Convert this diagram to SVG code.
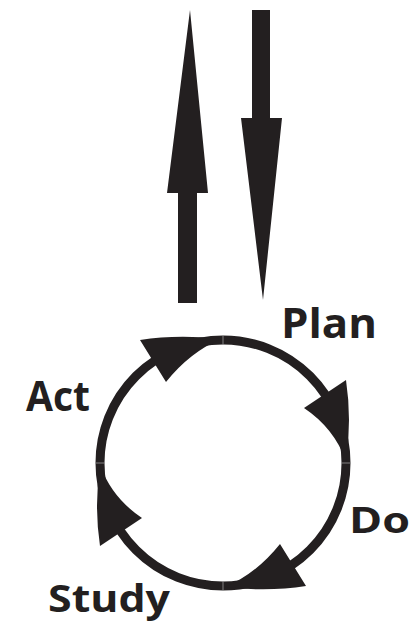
<svg xmlns="http://www.w3.org/2000/svg" width="413" height="623" viewBox="0 0 413 623">
<style>
.ink{fill:#231f20}
.ring{fill:none;stroke:#231f20;stroke-width:9}
.seam{stroke:#9a9a9a;stroke-width:0.8}
.lbl{font-family:"Open Sans","DejaVu Sans",sans-serif;font-weight:bold;fill:#231f20}
</style>
<rect width="413" height="623" fill="#ffffff"/>
<g id="up-arrow">
<polygon class="ink" points="178,303 178,193 167,193 190,10 208,193 197,193 197,303"/>
</g>
<g id="down-arrow">
<polygon class="ink" points="252,10 270,10 270,118 282,118 263,300 241,118 252,118"/>
</g>
<g id="connectors">
<circle class="ring" cx="223" cy="463" r="123"/>
<path class="ink" d="M140,340 Q178,334 220.9,339 Q190,352 166,382 Z"/>
<path class="ink" d="M346,380 Q352,420 346,461 Q334,428 304,408 Z"/>
<path class="ink" d="M306,586 Q268,592 225,587 Q256,574 280,544 Z"/>
<path class="ink" d="M100,546 Q94,506 100,465 Q112,498 142,518 Z"/>
<line class="seam" x1="223" y1="335" x2="223" y2="344"/>
<line class="seam" x1="342" y1="463" x2="351" y2="463"/>
<line class="seam" x1="223" y1="582" x2="223" y2="591"/>
<line class="seam" x1="95" y1="463" x2="104" y2="463"/>
</g>
<g id="plan"><text class="lbl" x="281" y="338" font-size="41" textLength="96" lengthAdjust="spacingAndGlyphs">Plan</text></g>
<g id="do"><text class="lbl" x="349" y="533" font-size="36" textLength="61" lengthAdjust="spacingAndGlyphs">Do</text></g>
<g id="study"><text class="lbl" x="48" y="612" font-size="38" textLength="122" lengthAdjust="spacingAndGlyphs">Study</text></g>
<g id="act"><text class="lbl" x="26" y="411" font-size="41" textLength="64" lengthAdjust="spacingAndGlyphs">Act</text></g>
</svg>
